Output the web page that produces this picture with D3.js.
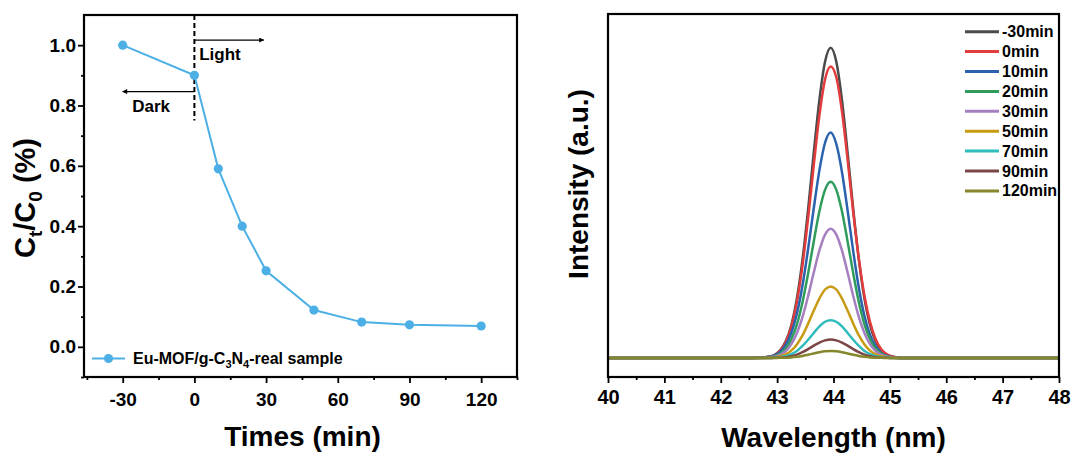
<!DOCTYPE html>
<html lang="en">
<head>
<meta charset="utf-8">
<title>Eu-MOF/g-C3N4 degradation</title>
<script src="https://cdn.jsdelivr.net/npm/d3@7/dist/d3.min.js"></script>
<style>
  body { margin: 0; background: #fff; }
  text { font-family: Arial, "Liberation Sans", sans-serif; font-weight: bold; fill: #000; }
</style>
</head>
<body>
<script>
// ---- left panel data: Ct/C0 vs time
var times = [-30, 0, 10, 20, 30, 50, 70, 90, 120];
var ratio = [1.00, 0.90, 0.59, 0.40, 0.252, 0.122, 0.082, 0.073, 0.069];
var timeTicks = [-30, 0, 30, 60, 90, 120];
var ratioTicks = [0.0, 0.2, 0.4, 0.6, 0.8, 1.0];

// ---- right panel data: spectra
var wave = [40, 42.5, 42.85, 42.95, 43.05, 43.15, 43.25, 43.35, 43.45, 43.55, 43.65, 43.75, 43.85, 43.95,
            44.05, 44.15, 44.25, 44.35, 44.45, 44.55, 44.65, 44.75, 44.85, 44.95, 45.05, 45.25, 45.6, 46, 48];
var specLabels = ["-30min", "0min", "10min", "20min", "30min", "50min", "70min", "90min", "120min"];
var specColors = ["#4a4a4a", "#e23c3c", "#2b62ae", "#2f9c5c", "#a67fc1", "#c79a12", "#2fbcbc", "#7a4646", "#86862a"];
var s_m30 = [0,0,0.004,0.010,0.024,0.053,0.105,0.191,0.317,0.480,0.662,0.832,0.955,1.000,0.955,0.832,0.662,0.480,0.317,0.191,0.105,0.053,0.024,0.010,0.004,0,0,0,0];
var s_0   = [0,0,0.004,0.009,0.023,0.050,0.099,0.180,0.298,0.451,0.622,0.782,0.898,0.940,0.905,0.795,0.640,0.470,0.320,0.200,0.115,0.060,0.028,0.012,0.005,0,0,0,0];
var s_10  = [0,0,0.004,0.009,0.020,0.042,0.080,0.143,0.234,0.352,0.483,0.605,0.694,0.727,0.690,0.600,0.476,0.344,0.226,0.135,0.074,0.037,0.016,0.007,0.003,0,0,0,0];
var s_20  = [0,0,0.002,0.006,0.014,0.030,0.060,0.108,0.180,0.273,0.376,0.473,0.542,0.568,0.542,0.473,0.376,0.273,0.180,0.108,0.060,0.030,0.014,0.006,0.002,0,0,0,0];
var s_30  = [0,0,0.002,0.004,0.010,0.022,0.044,0.080,0.132,0.200,0.276,0.347,0.398,0.417,0.398,0.347,0.276,0.200,0.132,0.080,0.044,0.022,0.010,0.004,0.002,0,0,0,0];
var s_50  = [0,0,0.001,0.002,0.006,0.012,0.024,0.044,0.073,0.111,0.153,0.192,0.221,0.231,0.221,0.192,0.153,0.111,0.073,0.044,0.024,0.012,0.006,0.002,0.001,0,0,0,0];
var s_70  = [0,0,0,0.001,0.003,0.006,0.013,0.023,0.039,0.059,0.081,0.102,0.117,0.122,0.117,0.102,0.081,0.059,0.039,0.023,0.013,0.006,0.003,0.001,0,0,0,0,0];
var s_90  = [0,0,0,0.001,0.001,0.003,0.006,0.011,0.019,0.029,0.040,0.050,0.057,0.060,0.057,0.050,0.040,0.029,0.019,0.011,0.006,0.003,0.001,0.001,0,0,0,0,0];
var s_120 = [0,0,0,0,0.001,0.001,0.002,0.004,0.007,0.011,0.015,0.019,0.022,0.023,0.022,0.019,0.015,0.011,0.007,0.004,0.002,0.001,0.001,0,0,0,0,0,0];
var spectra = [s_m30, s_0, s_10, s_20, s_30, s_50, s_70, s_90, s_120];
var waveTicks = [40, 41, 42, 43, 44, 45, 46, 47, 48];

var W = 1073, H = 456;
var svg = d3.select("body").append("svg").attr("width", W).attr("height", H);

function hyphen(fmt) {
  // plain hyphen for negatives, as in the original
  return function(d) { return fmt(d).replace("\u2212", "-"); };
}

// ================= left panel =================
var L = {left: 84, right: 517, top: 15, bottom: 377};
var x1 = d3.scaleLinear().domain([-46.2, 135]).range([L.left, L.right]);
var y1 = d3.scaleLinear().domain([-0.1, 1.1]).range([L.bottom, L.top]);

function minorAxis(axis, vals) {
  return axis.tickValues(vals).tickSize(3).tickSizeOuter(0).tickFormat("");
}

svg.append("g").attr("transform", "translate(0," + L.bottom + ")")
  .call(minorAxis(d3.axisBottom(x1), [-45, -15, 15, 45, 75, 105, 135]));
svg.append("g").attr("class", "lab19").attr("transform", "translate(0," + L.bottom + ")")
  .call(d3.axisBottom(x1).tickValues(timeTicks).tickSize(6).tickSizeOuter(0).tickPadding(10).tickFormat(hyphen(d3.format("d"))));
svg.append("g").attr("transform", "translate(" + L.left + ",0)")
  .call(minorAxis(d3.axisLeft(y1), [-0.1, 0.1, 0.3, 0.5, 0.7, 0.9]));
svg.append("g").attr("class", "lab19").attr("transform", "translate(" + L.left + ",0)")
  .call(d3.axisLeft(y1).tickValues(ratioTicks).tickSize(6).tickSizeOuter(0).tickPadding(2).tickFormat(d3.format(".1f")));

svg.append("rect").attr("x", L.left).attr("y", L.top)
  .attr("width", L.right - L.left).attr("height", L.bottom - L.top)
  .attr("fill", "none").attr("stroke", "#000").attr("stroke-width", 2.2);

// dark / light marker
svg.append("line").attr("x1", x1(0)).attr("x2", x1(0)).attr("y1", y1(1.1)).attr("y2", y1(0.75))
  .attr("stroke", "#000").attr("stroke-width", 2).attr("stroke-dasharray", "5,3");
svg.append("defs").append("marker").attr("id", "arr").attr("viewBox", "0 0 10 10")
  .attr("refX", 9).attr("refY", 5).attr("markerWidth", 8).attr("markerHeight", 5)
  .attr("markerUnits", "userSpaceOnUse").attr("orient", "auto")
  .append("path").attr("d", "M0,0L10,5L0,10z").attr("fill", "#000");
svg.append("line").attr("x1", x1(0)).attr("x2", x1(29)).attr("y1", y1(1.017)).attr("y2", y1(1.017))
  .attr("stroke", "#000").attr("stroke-width", 1.2).attr("marker-end", "url(#arr)");
svg.append("line").attr("x1", x1(0)).attr("x2", x1(-30)).attr("y1", y1(0.846)).attr("y2", y1(0.846))
  .attr("stroke", "#000").attr("stroke-width", 1.2).attr("marker-end", "url(#arr)");
svg.append("text").attr("x", x1(2)).attr("y", y1(0.951)).attr("font-size", 17).text("Light");
svg.append("text").attr("x", x1(-26)).attr("y", y1(0.78)).attr("font-size", 17).text("Dark");

var blue = "#4cb0e6";
var pts = times.map(function(t, i) { return [t, ratio[i]]; });
svg.append("path").datum(pts)
  .attr("d", d3.line().x(function(d) { return x1(d[0]); }).y(function(d) { return y1(d[1]); }))
  .attr("fill", "none").attr("stroke", blue).attr("stroke-width", 2);
svg.selectAll("circle.pt").data(pts).enter().append("circle").attr("class", "pt")
  .attr("cx", function(d) { return x1(d[0]); }).attr("cy", function(d) { return y1(d[1]); })
  .attr("r", 4.6).attr("fill", blue);

// legend
svg.append("line").attr("x1", 92).attr("x2", 125).attr("y1", 358.5).attr("y2", 358.5)
  .attr("stroke", blue).attr("stroke-width", 2);
svg.append("circle").attr("cx", 108.5).attr("cy", 358.5).attr("r", 4.6).attr("fill", blue);
var lt = svg.append("text").attr("x", 133).attr("y", 364).attr("font-size", 16);
lt.append("tspan").text("Eu-MOF/g-C");
lt.append("tspan").attr("font-size", 11).attr("dy", 4).text("3");
lt.append("tspan").attr("dy", -4).text("N");
lt.append("tspan").attr("font-size", 11).attr("dy", 4).text("4");
lt.append("tspan").attr("dy", -4).text("-real sample");

// axis titles
svg.append("text").attr("x", (L.left + L.right) / 2 + 2).attr("y", 446).attr("text-anchor", "middle")
  .attr("font-size", 28).text("Times (min)");
var yt = svg.append("text").attr("transform", "translate(35," + 198 + ") rotate(-90)")
  .attr("text-anchor", "middle").attr("font-size", 29);
yt.append("tspan").text("C");
yt.append("tspan").attr("font-size", 19).attr("dy", 7).text("t");
yt.append("tspan").attr("dy", -7).text("/C");
yt.append("tspan").attr("font-size", 19).attr("dy", 7).text("0");
yt.append("tspan").attr("dy", -7).text(" (%)");

// ================= right panel =================
var R = {left: 608, right: 1059, top: 14, bottom: 377};
var x2 = d3.scaleLinear().domain([40, 48]).range([R.left, R.right]);
var y2 = d3.scaleLinear().domain([-0.061, 1.109]).range([R.bottom, R.top]);

svg.append("g").attr("transform", "translate(0," + R.bottom + ")")
  .call(minorAxis(d3.axisBottom(x2), [40.5, 41.5, 42.5, 43.5, 44.5, 45.5, 46.5, 47.5]));
svg.append("g").attr("class", "lab20").attr("transform", "translate(0," + R.bottom + ")")
  .call(d3.axisBottom(x2).tickValues(waveTicks).tickSize(6).tickSizeOuter(0).tickPadding(7).tickFormat(d3.format("d")));

svg.append("clipPath").attr("id", "clipR").append("rect")
  .attr("x", R.left).attr("y", R.top).attr("width", R.right - R.left).attr("height", R.bottom - R.top);

var line2 = d3.line().x(function(d) { return x2(d[0]); }).y(function(d) { return y2(d[1]); })
  .curve(d3.curveMonotoneX);
svg.append("g").attr("clip-path", "url(#clipR)").selectAll("path").data(spectra).enter().append("path")
  .attr("d", function(s) { return line2(wave.map(function(w, i) { return [w, s[i]]; })); })
  .attr("fill", "none").attr("stroke", function(s, i) { return specColors[i]; }).attr("stroke-width", 2.5);

svg.append("rect").attr("x", R.left).attr("y", R.top)
  .attr("width", R.right - R.left).attr("height", R.bottom - R.top)
  .attr("fill", "none").attr("stroke", "#000").attr("stroke-width", 2.2);

var leg = svg.append("g").selectAll("g").data(specLabels).enter().append("g")
  .attr("transform", function(d, i) { return "translate(965," + (31.7 + i * 19.9) + ")"; });
leg.append("line").attr("x1", 0).attr("x2", 34)
  .attr("stroke", function(d, i) { return specColors[i]; }).attr("stroke-width", 3);
leg.append("text").attr("x", 37).attr("y", 5.5).attr("font-size", 16).text(function(d) { return d; });

svg.append("text").attr("x", (R.left + R.right) / 2).attr("y", 447).attr("text-anchor", "middle")
  .attr("font-size", 28).text("Wavelength (nm)");
svg.append("text").attr("transform", "translate(588,184) rotate(-90)").attr("text-anchor", "middle")
  .attr("font-size", 28).text("Intensity (a.u.)");

// axis styling
svg.selectAll(".domain").remove();
svg.selectAll(".tick line").attr("stroke", "#000").attr("stroke-width", 1.8);
svg.selectAll(".tick text").attr("font-family", "Arial, 'Liberation Sans', sans-serif")
  .attr("font-weight", "bold").attr("fill", "#000");
svg.selectAll(".lab19 .tick text").attr("font-size", 19);
svg.selectAll(".lab20 .tick text").attr("font-size", 20);
</script>
</body>
</html>
